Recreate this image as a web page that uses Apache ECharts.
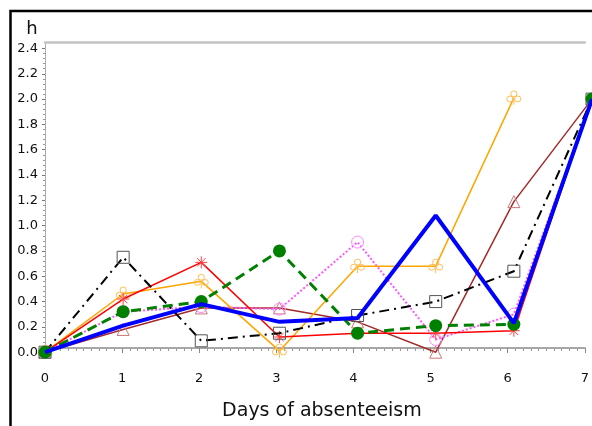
<!DOCTYPE html>
<html>
<head>
<meta charset="utf-8">
<script src="https://cdn.jsdelivr.net/npm/echarts@6/dist/echarts.min.js"></script>
<style>html,body{margin:0;padding:0;background:#fff;}#c{width:592px;height:426px;}</style>
</head>
<body>
<div id="c"></div>
<script>
const days = [0, 1, 2, 3, 4, 5, 6, 7];
const yTicks = [0, 0.2, 0.4, 0.6, 0.8, 1.0, 1.2, 1.4, 1.6, 1.8, 2.0, 2.2, 2.4];
const blackSq = [0, 0.75, 0.09, 0.15, 0.29, 0.40, 0.64, 2.0];
const blueLine = [0, 0.21, 0.38, 0.24, 0.27, 1.08, 0.23, 2.0];
const greenDot = [0, 0.32, 0.40, 0.80, 0.15, 0.21, 0.22, 2.0];
const redStar = [0, 0.42, 0.71, 0.12, 0.15, 0.15, 0.17, 2.0];
const orangeClover = [0, 0.46, 0.56, 0.01, 0.68, 0.68, 2.01, null];
const magentaCirc = [0, 0.32, 0.36, 0.34, 0.87, 0.10, 0.30, 2.0];
const brownTri = [0, 0.18, 0.35, 0.35, 0.24, 0.0, 1.19, 2.0];
const xTitle = 'Days of absenteeism';
const yTitle = 'h';

function pts(arr) { return days.map((d, i) => [d, arr[i]]); }

const asterisk = 'path://M0,5 L10,5 M5,0 L5,10 M1.5,1.5 L8.5,8.5 M8.5,1.5 L1.5,8.5';
const clover = 'path://M7,2.5 A2,2 0 1,1 3,2.5 A2,2 0 1,1 7,2.5 Z M4.5,6 A2,2 0 1,1 0.5,6 A2,2 0 1,1 4.5,6 Z M9.5,6 A2,2 0 1,1 5.5,6 A2,2 0 1,1 9.5,6 Z M5,6 L5,10';

const chart = echarts.init(document.getElementById('c'), null, {renderer: 'canvas'});
const GL = 45, GW = 548.5;
const font = 'DejaVu Sans';

chart.setOption({
  animation: false,
  backgroundColor: '#fff',
  graphic: [{
    type: 'rect', shape: {x: 10.5, y: 11, width: 700, height: 600},
    style: {fill: 'none', stroke: '#000', lineWidth: 2.5}, z: 100
  }],
  grid: [
    {left: GL, width: GW, top: 48.5, height: 303.7},
    {left: GL, width: GW, top: 42, height: 314}
  ],
  xAxis: [
    {gridIndex: 0, type: 'value', min: 0, max: 7, show: false},
    {gridIndex: 1, type: 'value', min: 0, max: 7, interval: 1, position: 'bottom',
      axisLine: {show: true, onZero: false, lineStyle: {color: '#a8a8a8', width: 2}},
      axisTick: {show: true, length: 5, lineStyle: {color: '#888', width: 1}},
      minorTick: {show: true, splitNumber: 10, length: 3, lineStyle: {color: '#999', width: 1}},
      splitLine: {show: false},
      axisLabel: {margin: 24, fontSize: 13, color: '#111', fontFamily: font},
      name: xTitle, nameLocation: 'middle', nameGap: 54,
      nameTextStyle: {fontSize: 19, color: '#111', fontFamily: font, padding: [0, 0, 0, 14]}
    },
    {gridIndex: 1, type: 'value', min: 0, max: 7, position: 'top',
      axisLine: {show: true, onZero: false, lineStyle: {color: '#c4c4c4', width: 2.5}},
      axisTick: {show: false}, axisLabel: {show: false}, splitLine: {show: false}
    }
  ],
  yAxis: [
    {gridIndex: 0, type: 'value', min: 0, max: 2.4, interval: 0.2,
      axisLine: {show: false},
      axisTick: {show: true, length: 3, lineStyle: {color: '#777'}},
      minorTick: {show: true, splitNumber: 5, length: 2, lineStyle: {color: '#999'}},
      splitLine: {show: false},
      axisLabel: {margin: 7, fontSize: 13, color: '#111', fontFamily: font,
        formatter: v => v.toFixed(1)}
    },
    {gridIndex: 1, type: 'value', min: 0, max: 1,
      axisLine: {show: true, onZero: false, lineStyle: {color: '#999', width: 1, type: 'dotted'}},
      axisTick: {show: false}, axisLabel: {show: false}, splitLine: {show: false},
      name: yTitle, nameLocation: 'end', nameGap: 4,
      nameTextStyle: {fontSize: 18, color: '#111', fontFamily: font, padding: [0, 26, 0, 0]}
    }
  ],
  series: [
    {type: 'line', name: 'brown', data: pts(brownTri), symbol: 'triangle', symbolSize: 12,
      lineStyle: {color: '#a52a2a', width: 1.5},
      itemStyle: {color: 'rgba(0,0,0,0)', borderColor: '#cc7777', borderWidth: 1}, z: 2},
    {type: 'line', name: 'magenta', data: pts(magentaCirc), symbol: 'circle', symbolSize: 12,
      lineStyle: {color: '#ff55ff', width: 2, type: 'dotted'},
      itemStyle: {color: 'rgba(0,0,0,0)', borderColor: '#ff88ff', borderWidth: 1}, z: 3},
    {type: 'line', name: 'orange', data: pts(orangeClover), symbol: clover, symbolSize: 14,
      lineStyle: {color: '#ffa500', width: 1.5},
      itemStyle: {color: 'rgba(0,0,0,0)', borderColor: '#ffbe55', borderWidth: 1}, z: 4},
    {type: 'line', name: 'red', data: pts(redStar), symbol: asterisk, symbolSize: 12,
      lineStyle: {color: '#ff0000', width: 1.5},
      itemStyle: {color: 'rgba(0,0,0,0)', borderColor: '#ff4040', borderWidth: 1}, z: 5},
    {type: 'line', name: 'black', data: pts(blackSq), symbol: 'rect', symbolSize: 12,
      lineStyle: {color: '#000', width: 2, type: [10, 5, 2, 5]},
      itemStyle: {color: 'rgba(0,0,0,0)', borderColor: '#555', borderWidth: 1}, z: 6},
    {type: 'line', name: 'green', data: pts(greenDot), symbol: 'circle', symbolSize: 13,
      lineStyle: {color: '#008000', width: 3, type: [10, 6]},
      itemStyle: {color: '#008000', borderWidth: 0}, z: 7},
    {type: 'line', name: 'blue', data: pts(blueLine), symbol: 'none',
      lineStyle: {color: '#0000ff', width: 4}, z: 8}
  ]
});
</script>
</body>
</html>
